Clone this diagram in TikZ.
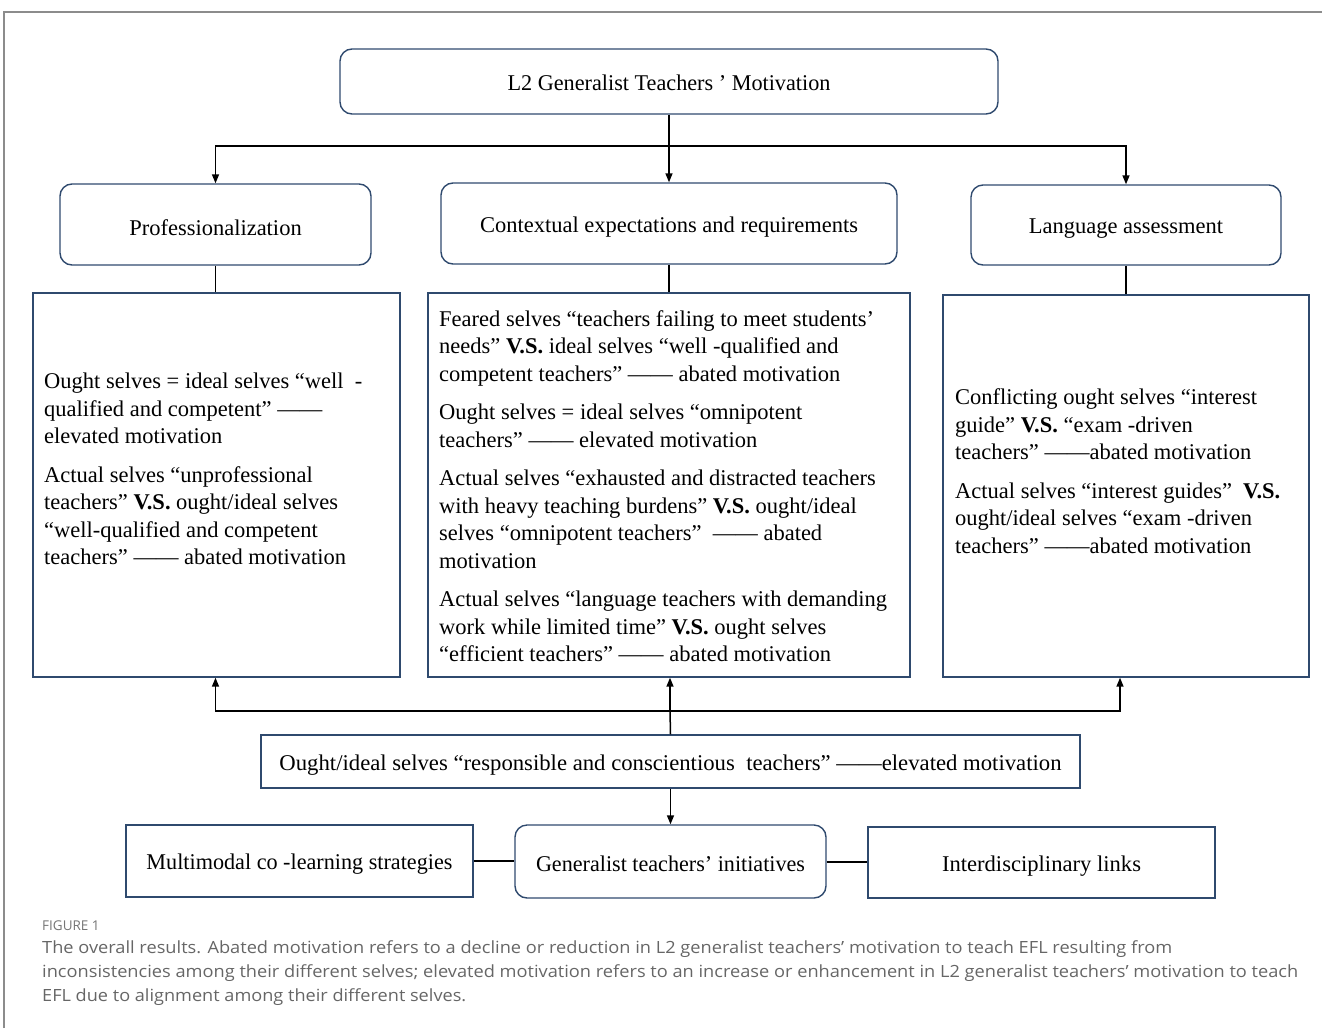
\documentclass[tikz,border=0pt]{standalone}
\usepackage{fontspec}
\setmainfont{Liberation Serif}
\newfontfamily\capfont{Open Sans}
\usetikzlibrary{arrows.meta}
\definecolor{navy}{HTML}{2F4A6E}
\definecolor{capgray}{HTML}{666666}
\definecolor{framegray}{HTML}{8C8C8C}
\newcommand{\dn}[2]{\raisebox{-#1pt}[\height][\depth]{#2}}
\begin{document}
\begin{tikzpicture}[x=1pt,y=-1pt,
  box/.style={draw=navy, line width=1.4pt, rectangle, inner sep=0pt},
  rbox/.style={box, rounded corners=12pt},
  body/.style={font=\fontsize{22.5}{27.5}\selectfont, align=left, inner sep=0pt, anchor=west},
  hd/.style={font=\fontsize{22.5}{27.5}\selectfont},
  conn/.style={line width=1.5pt, black},
  arr/.style={conn, -{Triangle[length=9pt,width=7pt]}},
  captext/.style={font=\capfont\fontsize{16.8}{20}\selectfont, text=capgray, inner sep=0pt, anchor=west}]
\useasboundingbox (0,0) rectangle (1322,1028);
\draw[framegray, line width=1.5pt] (4,1028) -- (4,12) -- (1322,12);

% top level
\node[rbox, hd, minimum width=658pt, minimum height=65pt] (top) at (669,81.5)
  {\dn{1.5}{\resizebox{323pt}{\height}{L2 Generalist Teachers ’ Motivation}}};
\node[rbox, hd, minimum width=311pt, minimum height=81pt] (prof) at (215.5,224.5) {\dn{3.5}{Professionalization}};
\node[rbox, hd, minimum width=456pt, minimum height=81pt] (ctx) at (669,223.5) {\dn{3.5}{Contextual expectations and requirements}};
\node[rbox, hd, minimum width=310pt, minimum height=80pt] (lang) at (1126,225) {\dn{4}{Language assessment}};

% big boxes
\node[box, minimum width=367pt, minimum height=384pt] (bigL) at (216.5,485) {};
\node[box, minimum width=482pt, minimum height=384pt] (bigM) at (669,485) {};
\node[box, minimum width=366pt, minimum height=382pt] (bigR) at (1126,486) {};

\node[body] (tL) at (44,469) {Ought selves = ideal selves “well \ -\\
qualified and competent” ——\\
elevated motivation\\[11pt]
Actual selves “unprofessional\\
teachers” \textbf{V.S.} ought/ideal selves\\
“well-qualified and competent\\
teachers” —— abated motivation};

\node[body] (tM) at (439,486) {Feared selves “teachers failing to meet students’\\
needs” \textbf{V.S.} ideal selves “well -qualified and\\
competent teachers” —— abated motivation\\[11pt]
Ought selves = ideal selves “omnipotent\\
teachers” —— elevated motivation\\[11pt]
Actual selves “exhausted and distracted teachers\\
with heavy teaching burdens” \textbf{V.S.} ought/ideal\\
selves “omnipotent teachers” \ —— abated\\
motivation\\[11pt]
Actual selves “language teachers with demanding\\
work while limited time” \textbf{V.S.} ought selves\\
“efficient teachers” —— abated motivation};

\node[body] (tR) at (955,471) {Conflicting ought selves “interest\\
guide” \textbf{V.S.} “exam -driven\\
teachers” ——abated motivation\\[11pt]
Actual selves “interest guides” \ \textbf{V.S.}\\
ought/ideal selves “exam -driven\\
teachers” ——abated motivation};

% bottom part
\node[box, hd, minimum width=819pt, minimum height=53pt] (ought) at (670.5,761.5)
  {\dn{4}{\resizebox{782pt}{\height}{Ought/ideal selves “responsible and conscientious \ teachers” ——elevated motivation}}};
\node[box, hd, minimum width=347pt, minimum height=72pt] (multi) at (299.5,861)
  {\dn{3.5}{\resizebox{306pt}{\height}{Multimodal co -learning strategies}}};
\node[rbox, hd, minimum width=311pt, minimum height=73pt] (gen) at (670.5,861.5)
  {\dn{2}{\resizebox{269pt}{\height}{Generalist teachers’ initiatives}}};
\node[box, hd, minimum width=347pt, minimum height=71pt] (inter) at (1041.5,862.5)
  {\dn{4}{\resizebox{199pt}{\height}{Interdisciplinary links}}};

% connectors top
\coordinate (j1) at (669,146);
\draw[conn] (top.south) -- (j1);
\draw[arr] (j1) -| (prof.north);
\draw[arr] (j1) -- (ctx.north);
\draw[arr] (j1) -| (lang.north);
\draw[conn] (prof.south) -- (prof.south |- bigL.north);
\draw[conn] (ctx.south) -- (ctx.south |- bigM.north);
\draw[conn] (lang.south) -- (lang.south |- bigR.north);

% connectors bottom
\coordinate (j2) at (670,711);
\draw[conn] (ought.north) -- (j2);
\draw[arr] (j2) -| ([xshift=-1pt]bigL.south);
\draw[arr] (j2) -- (j2 |- bigM.south);
\draw[arr] (j2) -| ([xshift=-6pt]bigR.south);
\draw[arr] (ought.south) -- (ought.south |- gen.north);
\draw[conn, line width=2pt] (multi.east) -- (multi.east -| gen.west);
\draw[conn, line width=2pt] (gen.east) -- (gen.east -| inter.west);

% caption
\node[captext, font=\capfont\fontsize{13.5}{16}\selectfont, text=capgray!90] (fig) at (42,926) {FIGURE 1};
\node[captext] (c1) at (42,949) {\resizebox{1130pt}{\height}{The overall results. Abated motivation refers to a decline or reduction in L2 generalist teachers’ motivation to teach EFL resulting from}};
\node[captext] (c2) at (42,973) {\resizebox{1256pt}{\height}{inconsistencies among their different selves; elevated motivation refers to an increase or enhancement in L2 generalist teachers’ motivation to teach}};
\node[captext] (c3) at (42,997) {\resizebox{424pt}{\height}{EFL due to alignment among their different selves.}};
\end{tikzpicture}
\end{document}
